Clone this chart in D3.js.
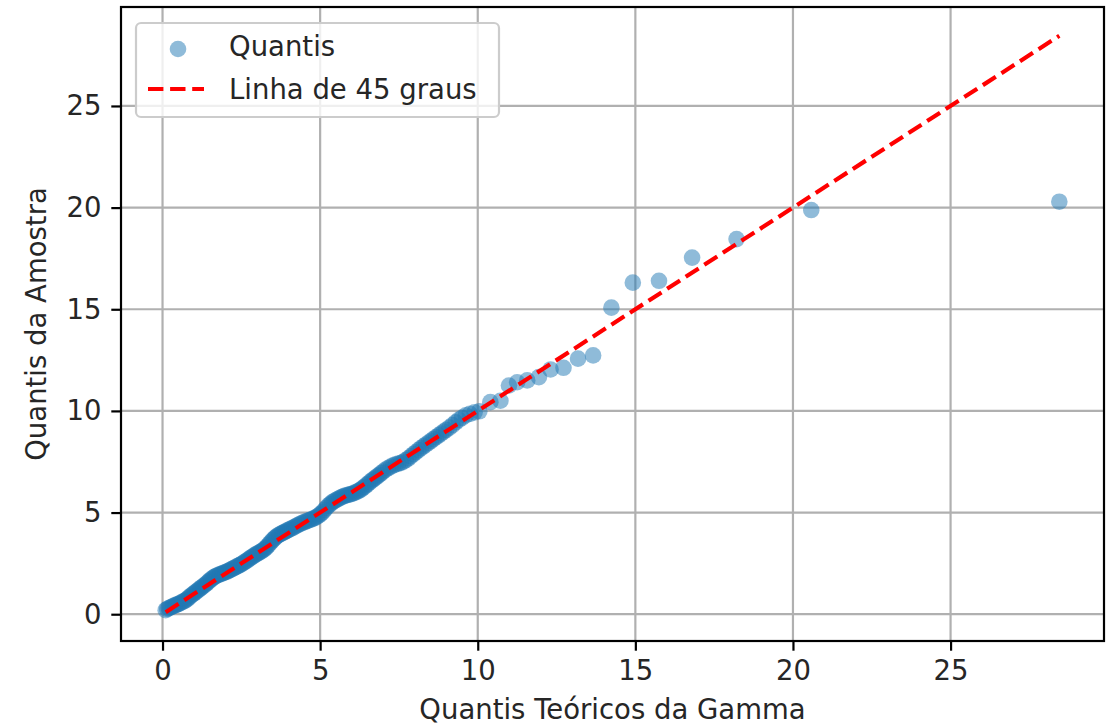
<!DOCTYPE html>
<html>
<head>
<meta charset="utf-8">
<script src="https://cdn.jsdelivr.net/npm/d3@7/dist/d3.min.js"></script>
<style>
  html, body { margin: 0; padding: 0; background: #fff; }
  svg { display: block; font-family: "DejaVu Sans", sans-serif; }
</style>
</head>
<body>
<svg id="chart" width="1109" height="726"></svg>
<script>
// Theoretical gamma quantiles (x) and sorted sample quantiles (y)
const theoreticalQuantiles = [
  0.10, 0.15, 0.20, 0.25, 0.30, 0.35, 0.40, 0.45, 0.50, 0.55,
  0.60, 0.65, 0.70, 0.75, 0.80, 0.85, 0.90, 0.95, 1.00, 1.05,
  1.10, 1.15, 1.20, 1.25, 1.30, 1.35, 1.40, 1.45, 1.50, 1.55,
  1.60, 1.65, 1.70, 1.75, 1.80, 1.85, 1.90, 1.95, 2.00, 2.05,
  2.10, 2.15, 2.20, 2.25, 2.30, 2.35, 2.40, 2.45, 2.50, 2.55,
  2.60, 2.65, 2.70, 2.75, 2.80, 2.85, 2.90, 2.95, 3.00, 3.05,
  3.10, 3.15, 3.20, 3.25, 3.30, 3.35, 3.40, 3.45, 3.50, 3.55,
  3.60, 3.65, 3.70, 3.75, 3.80, 3.85, 3.90, 3.95, 4.00, 4.06,
  4.12, 4.18, 4.24, 4.30, 4.36, 4.42, 4.48, 4.54, 4.60, 4.66,
  4.72, 4.78, 4.84, 4.90, 4.96, 5.02, 5.08, 5.14, 5.20, 5.26,
  5.32, 5.38, 5.44, 5.50, 5.56, 5.62, 5.68, 5.74, 5.80, 5.86,
  5.92, 5.98, 6.04, 6.10, 6.16, 6.22, 6.28, 6.34, 6.40, 6.46,
  6.52, 6.58, 6.64, 6.70, 6.76, 6.82, 6.88, 6.94, 7.00, 7.08,
  7.16, 7.24, 7.32, 7.40, 7.48, 7.56, 7.64, 7.72, 7.80, 7.88,
  7.96, 8.04, 8.12, 8.20, 8.28, 8.36, 8.44, 8.52, 8.60, 8.68,
  8.76, 8.84, 8.92, 9.00, 9.10, 9.20, 9.30, 9.40, 9.50, 9.62,
  9.75, 9.90, 10.05, 10.40, 10.72, 10.99, 11.25, 11.57, 11.94, 12.31,
  12.72, 13.18, 13.66, 14.24, 14.92, 15.75, 16.80, 18.21, 20.58, 28.45
];
const sampleQuantiles = [
  0.20, 0.26, 0.30, 0.33, 0.37, 0.41, 0.44, 0.47, 0.50, 0.54,
  0.58, 0.62, 0.66, 0.71, 0.77, 0.84, 0.91, 0.97, 1.03, 1.09,
  1.15, 1.21, 1.27, 1.33, 1.39, 1.45, 1.52, 1.59, 1.66, 1.73,
  1.79, 1.84, 1.88, 1.92, 1.95, 1.98, 2.01, 2.04, 2.07, 2.10,
  2.14, 2.18, 2.22, 2.26, 2.30, 2.34, 2.38, 2.42, 2.46, 2.51,
  2.56, 2.61, 2.66, 2.72, 2.78, 2.83, 2.88, 2.93, 2.98, 3.02,
  3.06, 3.11, 3.16, 3.23, 3.30, 3.39, 3.48, 3.57, 3.66, 3.73,
  3.80, 3.86, 3.91, 3.95, 3.99, 4.03, 4.07, 4.11, 4.15, 4.20,
  4.24, 4.29, 4.34, 4.39, 4.44, 4.48, 4.52, 4.56, 4.60, 4.63,
  4.66, 4.70, 4.74, 4.80, 4.86, 4.94, 5.02, 5.13, 5.24, 5.34,
  5.42, 5.50, 5.56, 5.61, 5.66, 5.71, 5.76, 5.80, 5.84, 5.86,
  5.88, 5.91, 5.94, 5.98, 6.02, 6.07, 6.12, 6.19, 6.26, 6.34,
  6.42, 6.50, 6.58, 6.65, 6.72, 6.79, 6.86, 6.94, 7.02, 7.11,
  7.19, 7.26, 7.32, 7.37, 7.41, 7.44, 7.50, 7.58, 7.67, 7.77,
  7.87, 7.97, 8.07, 8.17, 8.26, 8.35, 8.44, 8.53, 8.62, 8.71,
  8.80, 8.89, 8.98, 9.07, 9.18, 9.30, 9.44, 9.56, 9.66, 9.78,
  9.86, 9.93, 9.98, 10.43, 10.50, 11.25, 11.41, 11.50, 11.66, 12.04,
  12.12, 12.57, 12.73, 15.08, 16.31, 16.40, 17.54, 18.45, 19.88, 20.29
];
const xTicks = [0, 5, 10, 15, 20, 25];
const yTicks = [0, 5, 10, 15, 20, 25];
const labels = {
  x: "Quantis Teóricos da Gamma",
  y: "Quantis da Amostra",
  points: "Quantis",
  line: "Linha de 45 graus"
};

const points = theoreticalQuantiles.map((t, i) => ({ t, s: sampleQuantiles[i] }));
const lineMin = d3.min(theoreticalQuantiles);
const lineMax = d3.max(theoreticalQuantiles);
const refLine = [{ t: lineMin, s: lineMin }, { t: lineMax, s: lineMax }];

const box = { left: 121, right: 1104, top: 7, bottom: 641 };
const fontSize = 27.5;

// 5% margins around the data, as in the usual autoscaling
function padded(values) {
  const [lo, hi] = d3.extent(values);
  const m = (hi - lo) * 0.05;
  return [lo - m, hi + m];
}
const x = d3.scaleLinear()
  .domain(padded(theoreticalQuantiles.concat([lineMin, lineMax])))
  .range([box.left, box.right]);
const y = d3.scaleLinear()
  .domain(padded(sampleQuantiles.concat([lineMin, lineMax])))
  .range([box.bottom, box.top]);

const svg = d3.select("#chart");

// Grid
const grid = svg.append("g").attr("stroke", "#b0b0b0").attr("stroke-width", 2.2);
grid.selectAll("line.vx").data(xTicks).join("line")
  .attr("x1", d => x(d)).attr("x2", d => x(d))
  .attr("y1", box.top).attr("y2", box.bottom);
grid.selectAll("line.hy").data(yTicks).join("line")
  .attr("y1", d => y(d)).attr("y2", d => y(d))
  .attr("x1", box.left).attr("x2", box.right);

// Scatter of quantiles
svg.append("g").selectAll("circle").data(points).join("circle")
  .attr("cx", d => x(d.t)).attr("cy", d => y(d.s)).attr("r", 8.3)
  .attr("fill", "#1f77b4").attr("fill-opacity", 0.5);

// 45-degree reference line
svg.append("path").datum(refLine)
  .attr("d", d3.line().x(d => x(d.t)).y(d => y(d.s)))
  .attr("fill", "none").attr("stroke", "#ff0000").attr("stroke-width", 4.2)
  .attr("stroke-dasharray", "15.4,6.7");

// Axes
const xAxis = d3.axisBottom(x).tickValues(xTicks).tickSize(9.7).tickPadding(9.7).tickFormat(d3.format("d"));
const yAxis = d3.axisLeft(y).tickValues(yTicks).tickSize(9.7).tickPadding(9.7).tickFormat(d3.format("d"));

const gx = svg.append("g").attr("transform", `translate(0,${box.bottom})`).call(xAxis);
const gy = svg.append("g").attr("transform", `translate(${box.left},0)`).call(yAxis);
[gx, gy].forEach(g => {
  g.select(".domain").remove();
  g.selectAll(".tick line").attr("stroke", "#000").attr("stroke-width", 2.2);
  g.selectAll(".tick text").attr("fill", "#262626")
    .style("font-size", fontSize + "px").style("font-family", "DejaVu Sans, sans-serif");
});

// Spines
svg.append("rect")
  .attr("x", box.left).attr("y", box.top)
  .attr("width", box.right - box.left).attr("height", box.bottom - box.top)
  .attr("fill", "none").attr("stroke", "#000").attr("stroke-width", 2.2);

// Axis labels
svg.append("text")
  .attr("x", (box.left + box.right) / 2).attr("y", 719)
  .attr("text-anchor", "middle").attr("fill", "#262626")
  .style("font-size", fontSize + "px").text(labels.x);
svg.append("text")
  .attr("transform", `translate(46,${(box.top + box.bottom) / 2}) rotate(-90)`)
  .attr("text-anchor", "middle").attr("fill", "#262626")
  .style("font-size", fontSize + "px").text(labels.y);

// Legend
const legend = svg.append("g");
legend.append("rect")
  .attr("x", 136).attr("y", 23).attr("width", 363).attr("height", 94)
  .attr("rx", 5).attr("fill", "#fff").attr("fill-opacity", 0.8)
  .attr("stroke", "#cccccc").attr("stroke-width", 2.2);
legend.append("circle")
  .attr("cx", 178).attr("cy", 49).attr("r", 8.3)
  .attr("fill", "#1f77b4").attr("fill-opacity", 0.5);
legend.append("text").attr("x", 229).attr("y", 55.5)
  .attr("fill", "#262626").style("font-size", fontSize + "px").text(labels.points);
legend.append("line")
  .attr("x1", 148).attr("x2", 204).attr("y1", 89).attr("y2", 89)
  .attr("stroke", "#ff0000").attr("stroke-width", 4.2).attr("stroke-dasharray", "15.4,6.7");
legend.append("text").attr("x", 229).attr("y", 99)
  .attr("fill", "#262626").style("font-size", fontSize + "px").text(labels.line);
</script>
</body>
</html>
